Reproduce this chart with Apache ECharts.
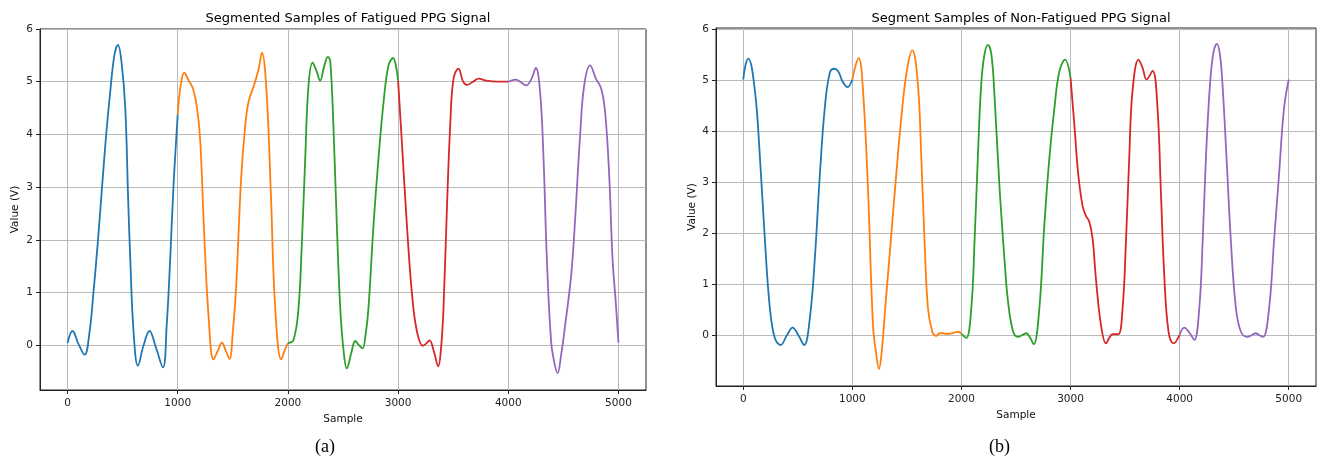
<!DOCTYPE html>
<html>
<head>
<meta charset="utf-8">
<script src="https://cdn.jsdelivr.net/npm/echarts@6.0.0/dist/echarts.min.js"></script>
<style>
html,body{margin:0;padding:0;background:#fff;}
#chart{width:1318px;height:458px;}
</style>
</head>
<body>
<div id="chart"></div>
<script>
// ---------- Data ----------
const xTickValues = [0, 1000, 2000, 3000, 4000, 5000];
const yTickValues = [0, 1, 2, 3, 4, 5, 6];
const segmentColors = ['#1f77b4', '#ff7f0e', '#2ca02c', '#d62728', '#9467bd'];

// Fatigued (a)
const fatSeg1X = [0, 45, 100, 155, 200, 236, 275, 312, 350, 387, 425, 457, 490, 524, 550, 569, 599, 639, 690, 744, 800, 866, 900, 932, 962, 1000];
const fatSeg1Y = [0.04, 0.27, 0.02, -0.18, 0.26, 1.02, 1.96, 2.97, 3.98, 4.80, 5.50, 5.70, 5.37, 4.49, 2.78, 1.65, 0.26, -0.39, 0.0, 0.27, -0.03, -0.42, 0.38, 1.65, 3.04, 4.38];
const fatSeg2X = [1000, 1025, 1059, 1100, 1138, 1174, 1204, 1240, 1280, 1325, 1365, 1401, 1435, 1470, 1500, 1530, 1575, 1612, 1643, 1700, 1735, 1764, 1805, 1845, 1885, 1939, 1970, 2000];
const fatSeg2Y = [4.38, 4.90, 5.17, 5.02, 4.87, 4.52, 3.89, 2.12, 0.54, -0.27, -0.10, 0.05, -0.10, -0.26, 0.25, 1.10, 3.15, 4.15, 4.62, 4.98, 5.25, 5.55, 4.85, 2.90, 0.70, -0.27, -0.10, 0.04];
const fatSeg3X = [2000, 2051, 2096, 2127, 2157, 2187, 2224, 2260, 2293, 2330, 2363, 2384, 2414, 2444, 2475, 2505, 2535, 2575, 2611, 2645, 2677, 2705, 2731, 2777, 2822, 2868, 2913, 2953, 3000];
const fatSeg3Y = [0.04, 0.10, 0.70, 1.96, 3.54, 4.93, 5.36, 5.20, 5.02, 5.30, 5.47, 5.40, 4.10, 2.28, 0.70, -0.10, -0.44, -0.15, 0.08, 0.00, -0.06, 0.20, 0.70, 2.28, 3.54, 4.61, 5.31, 5.45, 5.02];
const fatSeg4X = [3000, 3034, 3080, 3125, 3171, 3225, 3255, 3285, 3325, 3364, 3390, 3412, 3443, 3473, 3503, 3548, 3590, 3624, 3680, 3730, 3800, 3900, 4000];
const fatSeg4Y = [5.02, 3.86, 2.28, 1.00, 0.26, -0.01, 0.03, 0.09, -0.12, -0.40, -0.05, 0.70, 2.59, 4.17, 5.06, 5.25, 5.00, 4.94, 5.00, 5.06, 5.02, 5.00, 5.00];
const fatSeg5X = [4000, 4069, 4120, 4162, 4210, 4250, 4289, 4320, 4350, 4389, 4420, 4447, 4480, 4516, 4571, 4607, 4652, 4689, 4743, 4795, 4843, 4879, 4916, 4946, 4975, 5000];
const fatSeg5Y = [5.00, 5.04, 4.98, 4.93, 5.05, 5.26, 4.80, 3.54, 1.65, 0.07, -0.35, -0.53, -0.18, 0.38, 1.33, 2.40, 3.98, 4.93, 5.31, 5.06, 4.87, 4.42, 3.23, 1.65, 0.83, 0.05];

// Non-fatigued (b)
const nonSeg1X = [0, 20, 46, 107, 153, 199, 244, 290, 342, 400, 452, 505, 558, 610, 656, 702, 747, 793, 833, 870, 910, 955, 1000];
const nonSeg1Y = [5.02, 5.30, 5.43, 4.79, 3.48, 1.84, 0.53, -0.06, -0.19, 0.00, 0.15, 0.00, -0.19, 0.33, 1.51, 3.15, 4.46, 5.15, 5.23, 5.18, 4.98, 4.87, 5.02];
const nonSeg2X = [1000, 1030, 1059, 1098, 1144, 1189, 1220, 1244, 1270, 1300, 1350, 1400, 1450, 1500, 1550, 1601, 1632, 1662, 1693, 1733, 1769, 1800, 1830, 1860, 1891, 1930, 1967, 2000];
const nonSeg2Y = [5.02, 5.30, 5.44, 4.79, 2.82, 0.20, -0.39, -0.66, -0.30, 0.50, 1.80, 3.10, 4.30, 5.20, 5.59, 4.92, 3.48, 1.84, 0.53, 0.07, -0.01, 0.04, 0.04, 0.03, 0.03, 0.05, 0.07, 0.03];
const nonSeg3X = [2000, 2044, 2090, 2120, 2150, 2181, 2210, 2242, 2275, 2303, 2349, 2394, 2425, 2470, 2516, 2555, 2593, 2630, 2662, 2714, 2760, 2806, 2852, 2898, 2950, 3000];
const nonSeg3Y = [0.03, -0.05, 0.53, 1.84, 3.48, 4.92, 5.50, 5.70, 5.50, 4.70, 2.90, 1.50, 0.70, 0.10, -0.03, 0.00, 0.04, -0.05, -0.18, 0.53, 2.17, 3.48, 4.46, 5.18, 5.41, 5.05];
const nonSeg4X = [3000, 3035, 3071, 3111, 3140, 3172, 3202, 3233, 3279, 3325, 3355, 3385, 3437, 3477, 3508, 3538, 3568, 3623, 3660, 3697, 3752, 3797, 3828, 3859, 3898, 3944, 4000];
const nonSeg4Y = [5.05, 4.13, 3.15, 2.53, 2.35, 2.23, 1.90, 1.10, 0.20, -0.16, -0.05, 0.02, 0.02, 0.53, 1.84, 3.48, 4.79, 5.41, 5.25, 5.02, 5.19, 4.46, 2.82, 1.18, 0.07, -0.16, 0.01];
const nonSeg5X = [4000, 4042, 4090, 4134, 4180, 4211, 4241, 4278, 4310, 4342, 4370, 4393, 4430, 4470, 4516, 4562, 4622, 4660, 4698, 4730, 4765, 4820, 4865, 4911, 4957, 5000];
const nonSeg5Y = [0.01, 0.15, 0.05, -0.09, 0.53, 1.84, 3.48, 4.92, 5.55, 5.72, 5.50, 4.92, 3.48, 1.84, 0.53, 0.07, -0.03, 0.00, 0.04, 0.00, -0.03, 0.53, 1.84, 3.15, 4.46, 5.02];

const fatiguedSegments = [[fatSeg1X, fatSeg1Y], [fatSeg2X, fatSeg2Y], [fatSeg3X, fatSeg3Y], [fatSeg4X, fatSeg4Y], [fatSeg5X, fatSeg5Y]];
const nonFatiguedSegments = [[nonSeg1X, nonSeg1Y], [nonSeg2X, nonSeg2Y], [nonSeg3X, nonSeg3Y], [nonSeg4X, nonSeg4Y], [nonSeg5X, nonSeg5Y]];

// ---------- Chart ----------
const FONT = 'DejaVu Sans';
const chart = echarts.init(document.getElementById('chart'), null, {renderer: 'canvas'});

function xAxisDef(gridIndex, gap) {
  return {
    type: 'value', gridIndex: gridIndex, min: -250, max: 5250,
    name: 'Sample', nameLocation: 'middle', nameGap: gap,
    nameTextStyle: {fontFamily: FONT, fontSize: 10.5, color: '#111'},
    axisLine: {show: true, onZero: false, lineStyle: {color: '#222', width: 1}},
    axisTick: {show: true, length: 4, customValues: xTickValues, lineStyle: {color: '#222'}},
    axisLabel: {customValues: xTickValues, formatter: v => String(v), fontFamily: FONT, fontSize: 10.5, color: '#222', margin: 8},
    splitLine: {show: true, lineStyle: {color: '#bababa', width: 1}}
  };
}
function yAxisDef(gridIndex, min, max, gap) {
  return {
    type: 'value', gridIndex: gridIndex, min: min, max: max,
    name: 'Value (V)', nameLocation: 'middle', nameGap: gap, nameRotate: 90,
    nameTextStyle: {fontFamily: FONT, fontSize: 10.5, color: '#111'},
    axisLine: {show: true, onZero: false, lineStyle: {color: '#222', width: 1}},
    axisTick: {show: true, length: 4, customValues: yTickValues, lineStyle: {color: '#222'}},
    axisLabel: {customValues: yTickValues, formatter: v => String(v), fontFamily: FONT, fontSize: 10.5, color: '#222', margin: 7},
    splitLine: {show: true, lineStyle: {color: '#bababa', width: 1}}
  };
}

const series = [];
function addSegments(segments, idx) {
  segments.forEach((seg, i) => {
    series.push({
      type: 'line', xAxisIndex: idx, yAxisIndex: idx,
      data: seg[0].map((x, j) => [x, seg[1][j]]),
      showSymbol: false, smooth: 0.4, silent: true,
      lineStyle: {color: segmentColors[i], width: 1.8},
      itemStyle: {color: segmentColors[i]},
      z: 3
    });
  });
}
addSegments(fatiguedSegments, 0);
addSegments(nonFatiguedSegments, 1);

chart.setOption({
  animation: false,
  backgroundColor: '#fff',
  title: [
    {text: 'Segmented Samples of Fatigued PPG Signal', left: 343, top: 7, textAlign: 'center',
     textStyle: {fontFamily: FONT, fontSize: 13, fontWeight: 'normal', color: '#000'}},
    {text: 'Segment Samples of Non-Fatigued PPG Signal', left: 1016, top: 7, textAlign: 'center',
     textStyle: {fontFamily: FONT, fontSize: 13, fontWeight: 'normal', color: '#000'}}
  ],
  grid: [
    {left: 40, top: 29, width: 606, height: 361, show: true, borderColor: '#222', borderWidth: 1, containLabel: false},
    {left: 716, top: 28, width: 600, height: 358, show: true, borderColor: '#222', borderWidth: 1, containLabel: false}
  ],
  xAxis: [xAxisDef(0, 24), xAxisDef(1, 22)],
  yAxis: [yAxisDef(0, -0.85, 6.0, 19), yAxisDef(1, -0.995, 6.03, 18)],
  graphic: [
    {type: 'text', left: 315, top: 438, style: {text: '(a)', font: '18px "Liberation Serif", serif', fill: '#000'}},
    {type: 'text', left: 989, top: 438, style: {text: '(b)', font: '18px "Liberation Serif", serif', fill: '#000'}}
  ],
  series: series
});
</script>
</body>
</html>
